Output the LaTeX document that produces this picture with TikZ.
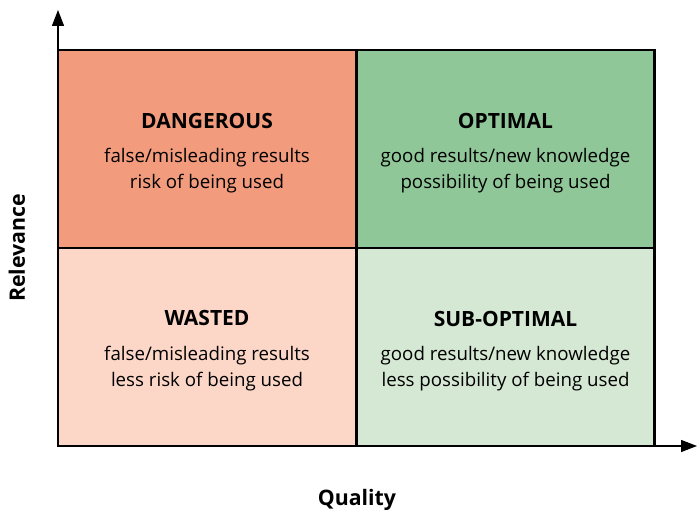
\documentclass[tikz,border=0pt]{standalone}
\usepackage{fontspec}
\setmainfont{Open Sans}
\usetikzlibrary{arrows.meta}
\definecolor{cdanger}{RGB}{242,155,125}
\definecolor{coptimal}{RGB}{144,199,153}
\definecolor{cwasted}{RGB}{252,215,200}
\definecolor{csub}{RGB}{213,232,212}
\tikzset{
  quad/.style={draw=black, line width=2.2pt, minimum width=298pt, minimum height=198pt, inner sep=0pt},
  qtitle/.style={font=\fontsize{21}{24}\selectfont\bfseries, inner sep=0pt},
  qtext/.style={font=\fontsize{18.7}{26}\selectfont, align=center, inner sep=0pt},
  axis/.style={draw=black, line width=1.3pt, -{Triangle[length=16pt,width=12pt]}},
  axlabel/.style={font=\fontsize{21.3}{24}\selectfont\bfseries, inner sep=0pt}
}
\begin{document}
\begin{tikzpicture}[x=1pt,y=-1pt]
\useasboundingbox (0,0) rectangle (697,510);
\node[quad, fill=cdanger] (dq) at (207,149) {};
\node[quad, fill=coptimal] (oq) at (505.5,149) {};
\node[quad, fill=cwasted] (wq) at (207,347) {};
\node[quad, fill=csub] (sq) at (505.5,347) {};
\coordinate (org) at (58,446);
\coordinate (ytip) at (58,10);
\coordinate (xtip) at (697,446);
\draw[axis] (org) -- (ytip);
\draw[axis] (org) -- (xtip);
\node[qtitle] (dt) at (207,120.5) {DANGEROUS};
\node[qtext] (dx) at (207,171) {false/misleading results\\risk of being used};
\node[qtitle] (ot) at (505.5,120.5) {OPTIMAL};
\node[qtext] (ox) at (505.5,171) {good results/new knowledge\\possibility of being used};
\node[qtitle] (wt) at (207,318.5) {WASTED};
\node[qtext] (wx) at (207,369) {false/misleading results\\less risk of being used};
\node[qtitle] (st) at (505.5,318.5) {SUB-OPTIMAL};
\node[qtext] (sx) at (505.5,369) {good results/new knowledge\\less possibility of being used};
\node[axlabel, rotate=90] (rl) at (17,248) {Relevance};
\node[axlabel] (ql) at (357,499.5) {Quality};
\end{tikzpicture}
\end{document}
